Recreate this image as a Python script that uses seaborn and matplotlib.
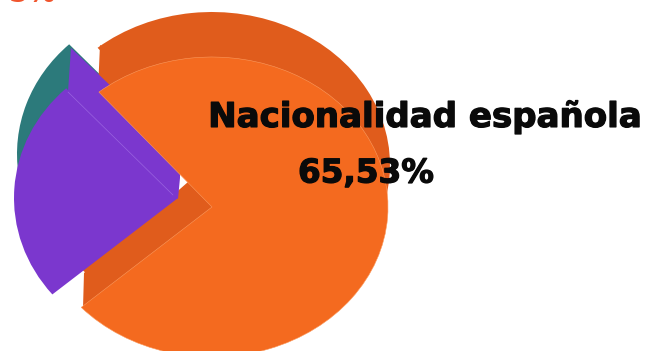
import matplotlib
matplotlib.use("Agg")
import matplotlib.pyplot as plt
import matplotlib.patheffects as pe
from matplotlib.patches import Polygon
from matplotlib.transforms import Affine2D
import seaborn as sns

sns.set_theme(style="white")
plt.rcParams["font.family"] = ["DejaVu Sans"]

# Population shares by nationality, in percent
categories = ["Nacionalidad española", "Otra nacionalidad", "Doble nacionalidad"]
shares = [65.53, 27.0, 7.47]
colors = ["#F46A1F", "#7B37CE", "#2C7A7B"]
side_orange = "#E05C1C"
edge_orange = "#FB9A5E"
edge_purple = "#9A63E0"
red_label = "#F0552D"

W, H = 652, 351
fig = plt.figure(figsize=(W / 100, H / 100), dpi=100)
ax = fig.add_axes([0, 0, 1, 1])


def y(py):
    return H - py


def tilted_slice(value, center, rx, ry, start, deg_per_pct, color, z):
    """One pie slice, flattened to an ellipse by the tilt of the disc."""
    frac = value * deg_per_pct / 360
    wedges, _ = ax.pie([frac], startangle=start, counterclock=False, normalize=False,
                       radius=rx, center=(center[0], y(center[1]) * rx / ry), colors=[color],
                       wedgeprops={"edgecolor": "none", "linewidth": 0})
    wedge = wedges[0]
    wedge.set_transform(Affine2D().scale(1, ry / rx) + ax.transData)
    wedge.set_zorder(z)
    return wedge


# Foreshortening of each slice on the tilted disc, degrees per percent
orange_rate = 268 / shares[0]
purple_rate = 87 / shares[1]
teal_rate = 55 / shares[2]

# Rear slice, only its rim shows above the purple one
tilted_slice(shares[2], (181, 154), 164, 150, 188, teal_rate, colors[2], 1)

# Side wall of the main slice
tilted_slice(shares[0], (212, 165), 178, 153, 130, orange_rate, side_orange, 2)
ax.add_patch(Polygon([(100, y(45)), (98, y(90)), (140, y(110)), (125, y(60))],
                     closed=True, fc=side_orange, ec="none", zorder=2))
ax.add_patch(Polygon([(83, y(308)), (84, y(273)), (188, y(182)), (212, y(207))],
                     closed=True, fc=side_orange, ec="none", zorder=3))

# Purple slice: side wall, then top face
ax.add_patch(Polygon([(71, y(48)), (68, y(92)), (178, y(199)), (180, y(178)), (180, y(152))],
                     closed=True, fc=colors[1], ec="none", zorder=4))
tilted_slice(shares[1], (178, 198), 164, 150, 220, purple_rate, colors[1], 5)
ax.plot([68, 173], [y(92), y(195)], color=edge_purple, lw=0.5, zorder=6)

# Top face of the main slice
top = tilted_slice(shares[0], (212, 207), 176, 150, 130, orange_rate, colors[0], 7)
top.set_edgecolor(edge_orange)
top.set_linewidth(0.4)

ax.set_aspect("auto")
ax.set_xlim(0, W)
ax.set_ylim(0, H)
ax.axis("off")

value_text = f"{shares[0]:.2f}%".replace(".", ",")
thick = [pe.withStroke(linewidth=0.9, foreground="#0a0a0a")]
ax.text(425, y(117), categories[0], ha="center", va="center", fontsize=24.5,
        fontweight="bold", color="#0a0a0a", path_effects=thick, zorder=10)
ax.text(366, y(173), value_text, ha="center", va="center",
        fontsize=23.5, fontweight="bold", color="#0a0a0a", path_effects=thick, zorder=10)

# Share of the slice above, cut by the top of the figure
ax.text(32, y(2), "5%", ha="center", va="baseline", fontsize=20, fontweight="bold",
        color=red_label, zorder=10)

fig.savefig("out.png", dpi=100, facecolor="white")
